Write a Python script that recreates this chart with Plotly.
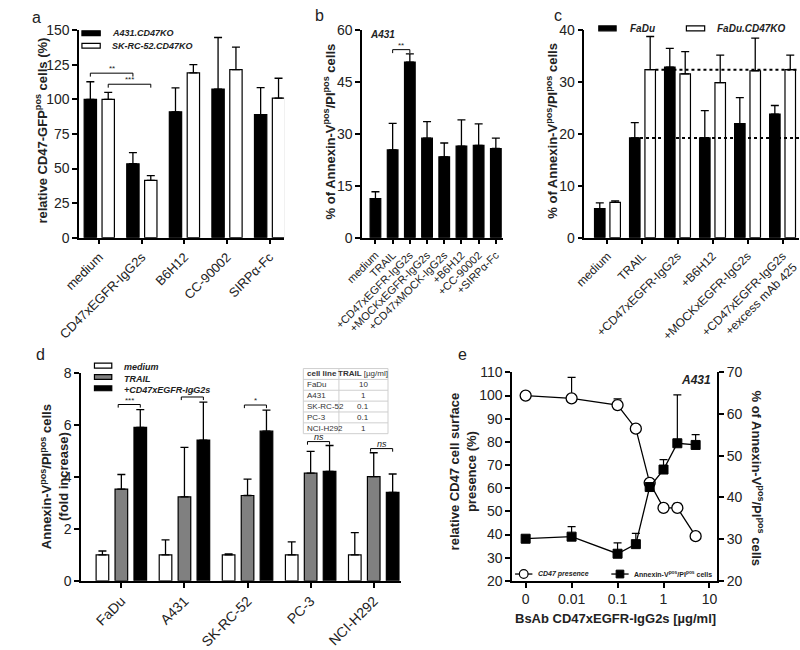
import plotly.graph_objects as go

W, H = 800, 650
FONT = "Arial, Liberation Sans, sans-serif"

# ---------------- data ----------------
# panel a
a_categories = ["medium", "CD47xEGFR-IgG2s", "B6H12", "CC-90002", "SIRPα-Fc"]
a_series = ["A431.CD47KO", "SK-RC-52.CD47KO"]
a_a431 = [100, 53.5, 91, 107.5, 89]
a_a431_sd = [12.8, 8.1, 17.4, 37.3, 19.5]
a_skrc = [100, 41.4, 119.2, 121.5, 100.9]
a_skrc_sd = [5.1, 3.5, 6.0, 16.3, 14.4]

# panel b
b_categories = ["medium", "TRAIL", "+CD47xEGFR-IgG2s", "+MOCKxEGFR-IgG2s",
                "+CD47xMOCK-IgG2s", "+B6H12", "+CC-90002", "+SIRPα-Fc"]
b_a431 = [11.3, 25.4, 50.8, 28.8, 23.4, 26.5, 26.7, 25.8]
b_a431_sd = [2.0, 7.7, 2.4, 4.8, 4.0, 7.6, 6.2, 3.0]

# panel c
c_categories = ["medium", "TRAIL", "+CD47xEGFR-IgG2s", "+B6H12",
                "+MOCKxEGFR-IgG2s", "+CD47xEGFR-IgG2s<br>+excess mAb 425"]
c_series = ["FaDu", "FaDu.CD47KO"]
c_fadu = [5.6, 19.25, 32.9, 19.25, 22.0, 23.85]
c_fadu_sd = [1.1, 2.95, 3.6, 5.25, 5.0, 1.65]
c_ko = [6.8, 32.4, 31.6, 29.9, 32.2, 32.4]
c_ko_sd = [0.3, 6.4, 4.3, 5.3, 6.3, 2.8]

# panel d
d_cell_lines = ["FaDu", "A431", "SK-RC-52", "PC-3", "NCI-H292"]
d_series = ["medium", "TRAIL", "+CD47xEGFR-IgG2s"]
d_medium = [1.0, 1.0, 1.0, 1.0, 1.0]
d_medium_sd = [0.15, 0.58, 0.04, 0.5, 0.86]
d_trail = [3.54, 3.24, 3.29, 4.15, 4.02]
d_trail_sd = [0.56, 1.91, 0.63, 0.84, 0.92]
d_combo = [5.92, 5.43, 5.77, 4.22, 3.41]
d_combo_sd = [0.68, 1.46, 0.81, 1.0, 0.71]
d_sig = ["***", "*", "*", "ns", "ns"]
d_table_header = ["<b>cell line</b>", "<b>TRAIL</b> [µg/ml]"]
d_trail_conc = ["10", "1", "0.1", "0.1", "1"]

# panel e
e_conc = [0, 0.01, 0.1, 0.25, 0.5, 1, 2, 5]
e_cd47 = [100, 98.8, 95.9, 85.7, 62.3, 51.5, 51.5, 39.3]
e_cd47_sd = [0, 9.1, 2.7, 0, 0, 0, 2.0, 0]
e_annexin = [30.1, 30.6, 26.5, 28.8, 42.5, 46.7, 53.0, 52.6]
e_annexin_sd = [0, 2.4, 2.6, 2.6, 0, 2.4, 11.6, 2.5]
e_ticks = [0, 0.01, 0.1, 1, 10]
e_tick_labels = ["0", "0.01", "0.1", "1", "10"]

# ---------------- helpers ----------------
def fx(p):
    return p / W


def fy(p):
    return 1 - p / H


fig = go.Figure()
shapes = []
annotations = []
TXT = "#222"


def add_bars(xs, ys, sd, color, offset, width, xa, ya, name):
    fig.add_trace(go.Bar(
        x=xs, y=ys, name=name, offset=offset, width=width,
        marker=dict(color=color, line=dict(color="black", width=1.2)),
        error_y=dict(type="data", symmetric=False, array=sd,
                     arrayminus=[0] * len(sd), color="black",
                     thickness=1.3, width=4),
        xaxis=xa, yaxis=ya, showlegend=False))


AX = dict(showline=True, linecolor="black", linewidth=1.5, ticks="outside",
          ticklen=5, tickwidth=1.5, tickcolor="black", showgrid=False,
          zeroline=False, ticklabeloverflow="allow")


def xcfg(x0, x1, rng, labels, angle, size, anchor):
    return dict(domain=[fx(x0), fx(x1)], range=rng, tickmode="array",
                tickvals=list(range(len(labels))), ticktext=labels,
                tickangle=angle, anchor=anchor,
                tickfont=dict(size=size, family=FONT, color=TXT), **AX)


def ycfg(ytop, ybot, rng, dtick, anchor, size=14):
    return dict(domain=[fy(ybot), fy(ytop)], range=rng, dtick=dtick, tick0=0,
                anchor=anchor, tickfont=dict(size=size, family=FONT, color=TXT),
                **AX)


def text(x, y, s, size=13, bold=False, italic=False, angle=0, xanchor="center",
         yanchor="middle", color=TXT, align="center"):
    if bold:
        s = "<b>" + s + "</b>"
    if italic:
        s = "<i>" + s + "</i>"
    annotations.append(dict(x=fx(x), y=fy(y), xref="paper", yref="paper", text=s,
                            showarrow=False, textangle=angle, xanchor=xanchor,
                            yanchor=yanchor, align=align,
                            font=dict(size=size, family=FONT, color=color)))


def bracket(xr, yr, x0, x1, y, drop, label, size=8, italic=False):
    shapes.append(dict(type="path", xref=xr, yref=yr,
                       path=f"M{x0},{y - drop} L{x0},{y} L{x1},{y} L{x1},{y - drop}",
                       line=dict(color="black", width=1)))
    s = "<i>" + label + "</i>" if italic else label
    annotations.append(dict(x=(x0 + x1) / 2, y=y, xref=xr, yref=yr, text=s,
                            showarrow=False, yanchor="bottom", yshift=-2,
                            font=dict(size=size, family=FONT, color=TXT)))


def swatch(x0, x1, yc, h, color):
    shapes.append(dict(type="rect", xref="paper", yref="paper",
                       x0=fx(x0), x1=fx(x1), y0=fy(yc + h / 2), y1=fy(yc - h / 2),
                       fillcolor=color, line=dict(color="black", width=1.2)))


def hline_px(x0, x1, y, color, width=1):
    shapes.append(dict(type="line", xref="paper", yref="paper", x0=fx(x0), x1=fx(x1),
                       y0=fy(y), y1=fy(y), line=dict(color=color, width=width)))


def vline_px(x, y0, y1, color, width=1):
    shapes.append(dict(type="line", xref="paper", yref="paper", x0=fx(x), x1=fx(x),
                       y0=fy(y0), y1=fy(y1), line=dict(color=color, width=width)))


# ---------------- panel a ----------------
ax_idx = list(range(len(a_categories)))
aw, ao = 0.29, 0.21
add_bars(ax_idx, a_a431, a_a431_sd, "black", -ao - aw / 2, aw, "x", "y", a_series[0])
add_bars(ax_idx, a_skrc, a_skrc_sd, "white", ao - aw / 2, aw, "x", "y", a_series[1])
bracket("x", "y", 0 - ao, 1 - ao, 119, 2.5, "**")
bracket("x", "y", 0 + ao, 1 + ao, 111, 2.5, "***")
swatch(55, 74, 26, 5, "black")
swatch(55, 74, 39, 5, "white")
text(84, 26, a_series[0], size=9, bold=True, italic=True, xanchor="left")
text(84, 39, a_series[1], size=9, bold=True, italic=True, xanchor="left")
text(13, 127, "relative CD47-GFP<sup>pos</sup> cells (%)", size=13, bold=True, angle=-90)
text(8, 10, "a", size=16)

# ---------------- panel b ----------------
bx_idx = list(range(len(b_categories)))
bw = 0.62
add_bars(bx_idx, b_a431, b_a431_sd, "black", -bw / 2, bw, "x2", "y2", "A431")
bracket("x2", "y2", 1, 2, 54.4, 1.0, "**")
text(352, 27, "A431", size=10, bold=True, italic=True, xanchor="left")
text(312, 127, "% of Annexin-V<sup>pos</sup>/PI<sup>pos</sup> cells", size=13, bold=True, angle=-90)
text(302, 8, "b", size=16)

# ---------------- panel c ----------------
cx_idx = list(range(len(c_categories)))
cw, co = 0.3, 0.22
c_xmax = 5.47
add_bars(cx_idx, c_fadu, c_fadu_sd, "black", -co - cw / 2, cw, "x3", "y3", c_series[0])
add_bars(cx_idx, c_ko, c_ko_sd, "white", co - cw / 2, cw, "x3", "y3", c_series[1])
# dotted reference lines at the TRAIL levels
shapes.append(dict(type="line", xref="x3", yref="y3", x0=1 + co + cw / 2, x1=c_xmax,
                   y0=c_ko[1], y1=c_ko[1], line=dict(color="black", width=2, dash="dot")))
shapes.append(dict(type="line", xref="x3", yref="y3", x0=1 - co + cw / 2, x1=c_xmax,
                   y0=c_fadu[1], y1=c_fadu[1], line=dict(color="black", width=2, dash="dot")))
swatch(592, 610, 21, 5, "black")
swatch(683, 702, 21, 5, "white")
text(622, 21, c_series[0], size=10, bold=True, italic=True, xanchor="left")
text(713, 21, c_series[1], size=10, bold=True, italic=True, xanchor="left")
text(543, 127, "% of Annexin-V<sup>pos</sup>/PI<sup>pos</sup> cells", size=13, bold=True, angle=-90)
text(550, 8, "c", size=16)

# ---------------- panel d ----------------
dx_idx = list(range(len(d_cell_lines)))
dw, do = 0.2, 0.3
add_bars(dx_idx, d_medium, d_medium_sd, "white", -do - dw / 2, dw, "x4", "y4", d_series[0])
add_bars(dx_idx, d_trail, d_trail_sd, "#808080", -dw / 2, dw, "x4", "y4", d_series[1])
add_bars(dx_idx, d_combo, d_combo_sd, "black", do - dw / 2, dw, "x4", "y4", d_series[2])
for i, lab in enumerate(d_sig):
    top = max(d_trail[i] + d_trail_sd[i], d_combo[i] + d_combo_sd[i])
    lvl = max(top + 0.15, 5.1) if lab == "ns" else top + 0.2
    bracket("x4", "y4", i - 0.05, i + do, lvl, 0.12, lab, size=9 if lab == "ns" else 8,
            italic=(lab == "ns"))
LEG_FS = 9
leg_step = LEG_FS * 1.3
for k, col in enumerate(["white", "#808080", "black"]):
    swatch(68, 86, 369 + leg_step * k, 5, col)
text(97, 369 - LEG_FS * 0.65, "<br>".join(d_series), size=LEG_FS, bold=True, italic=True,
     xanchor="left", yanchor="top", align="left")
text(26, 484, "Annexin-V<sup>pos</sup>/PI<sup>pos</sup> cells<br>(fold increase)", size=13,
     bold=True, angle=-90)
text(12, 357, "d", size=16)

# inset table (cell line / TRAIL concentration)
tx0, tx1, tx2 = 285, 322, 373
ty0, row_h = 372, 11.2
n_rows = len(d_cell_lines) + 1
grid = "#cfcfcf"
for r in range(n_rows + 1):
    hline_px(tx0, tx2, ty0 + r * row_h, grid)
for xv in (tx0, tx1, tx2):
    vline_px(xv, ty0, ty0 + n_rows * row_h, grid)
rows = [d_table_header] + [[c, v] for c, v in zip(d_cell_lines, d_trail_conc)]
for r, (c1, c2) in enumerate(rows):
    yc = ty0 + (r + 0.5) * row_h
    text(tx0 + 2, yc, c1, size=8, xanchor="left", color="#333")
    text((tx1 + tx2) / 2, yc, c2, size=8, color="#333")

# ---------------- panel e ----------------
e_x = [c if c > 0 else 0.001 for c in e_conc]   # "0" drawn at the axis break position
e_tickvals = [t if t > 0 else 0.001 for t in e_ticks]
fig.add_trace(go.Scatter(
    x=e_x, y=e_cd47, mode="lines+markers", name="CD47 presence",
    line=dict(color="black", width=1.3),
    marker=dict(symbol="circle", size=11, color="white", line=dict(color="black", width=1.3)),
    error_y=dict(type="data", symmetric=False, array=e_cd47_sd, arrayminus=[0] * len(e_cd47_sd),
                 color="black", thickness=1.2, width=4),
    xaxis="x5", yaxis="y5", showlegend=False))
fig.add_trace(go.Scatter(
    x=e_x, y=e_annexin, mode="lines+markers", name="Annexin-V pos/PI pos cells",
    line=dict(color="black", width=1.3),
    marker=dict(symbol="square", size=9, color="black", line=dict(color="black", width=1)),
    error_y=dict(type="data", symmetric=False, array=e_annexin_sd,
                 arrayminus=[0] * len(e_annexin_sd), color="black", thickness=1.2, width=4),
    xaxis="x5", yaxis="y6", showlegend=False))
# legend
hline_px(505, 523, 584, "black", 1.3)
shapes.append(dict(type="circle", xref="paper", yref="paper", x0=fx(509.5), x1=fx(518.5),
                   y0=fy(588.5), y1=fy(579.5), fillcolor="white",
                   line=dict(color="black", width=1.2)))
hline_px(605, 623, 584, "black", 1.3)
shapes.append(dict(type="rect", xref="paper", yref="paper", x0=fx(610), x1=fx(618),
                   y0=fy(588), y1=fy(580), fillcolor="black", line=dict(color="black", width=1)))
text(527, 584, "CD47 presence", size=7, bold=True, italic=True, xanchor="left")
text(627, 584, "Annexin-V<sup>pos</sup>/PI<sup>pos</sup> cells", size=7, bold=True, xanchor="left")
text(711, 384, "A431", size=12, bold=True, italic=True, xanchor="right")
text(451, 478, "relative CD47 cell surface<br>presence (%)", size=13, bold=True, angle=-90)
text(757, 485, "% of Annexin-V<sup>pos</sup>/PI<sup>pos</sup> cells", size=13, bold=True, angle=90)
text(609, 630, "BsAb CD47xEGFR-IgG2s [µg/ml]", size=13, bold=True)
text(450, 358, "e", size=16)

# ---------------- layout ----------------
YA, YB = 23, 237
fig.update_layout(
    width=W, height=H, margin=dict(l=0, r=0, t=0, b=0),
    paper_bgcolor="white", plot_bgcolor="white", barmode="overlay",
    font=dict(family=FONT, color=TXT),
    xaxis=xcfg(52, 265, [-0.475, 4.34], a_categories, -45, 13, "y"),
    yaxis=ycfg(YA, YB, [0, 150], 25, "x"),
    xaxis2=xcfg(346, 492, [-0.78, 7.39], b_categories, -45, 11, "y2"),
    yaxis2=ycfg(YA, YB, [0, 60], 15, "x2"),
    xaxis3=xcfg(577, 800, [-0.66, c_xmax], c_categories, -45, 12, "y3"),
    yaxis3=ycfg(YA, YB, [0, 40], 10, "x3"),
    xaxis4=xcfg(54, 387, [-0.64, 4.44], d_cell_lines, -45, 14, "y4"),
    yaxis4=ycfg(377, 591, [0, 8], 2, "x4"),
    xaxis5=dict(domain=[fx(502), fx(715)], type="log", range=[-3.293, 1.168],
                tickmode="array", tickvals=e_tickvals, ticktext=e_tick_labels,
                anchor="y5", tickfont=dict(size=14, family=FONT, color=TXT), **AX),
    yaxis5=ycfg(376, 591, [20, 110], 10, "x5"),
    yaxis6=dict(ycfg(376, 591, [20, 70], 10, "x5"), overlaying="y5", side="right"),
    shapes=shapes, annotations=annotations,
)

fig.write_html("out.html", config={"displayModeBar": False},
               post_script="document.body.style.margin='0';document.body.style.overflow='hidden';")
